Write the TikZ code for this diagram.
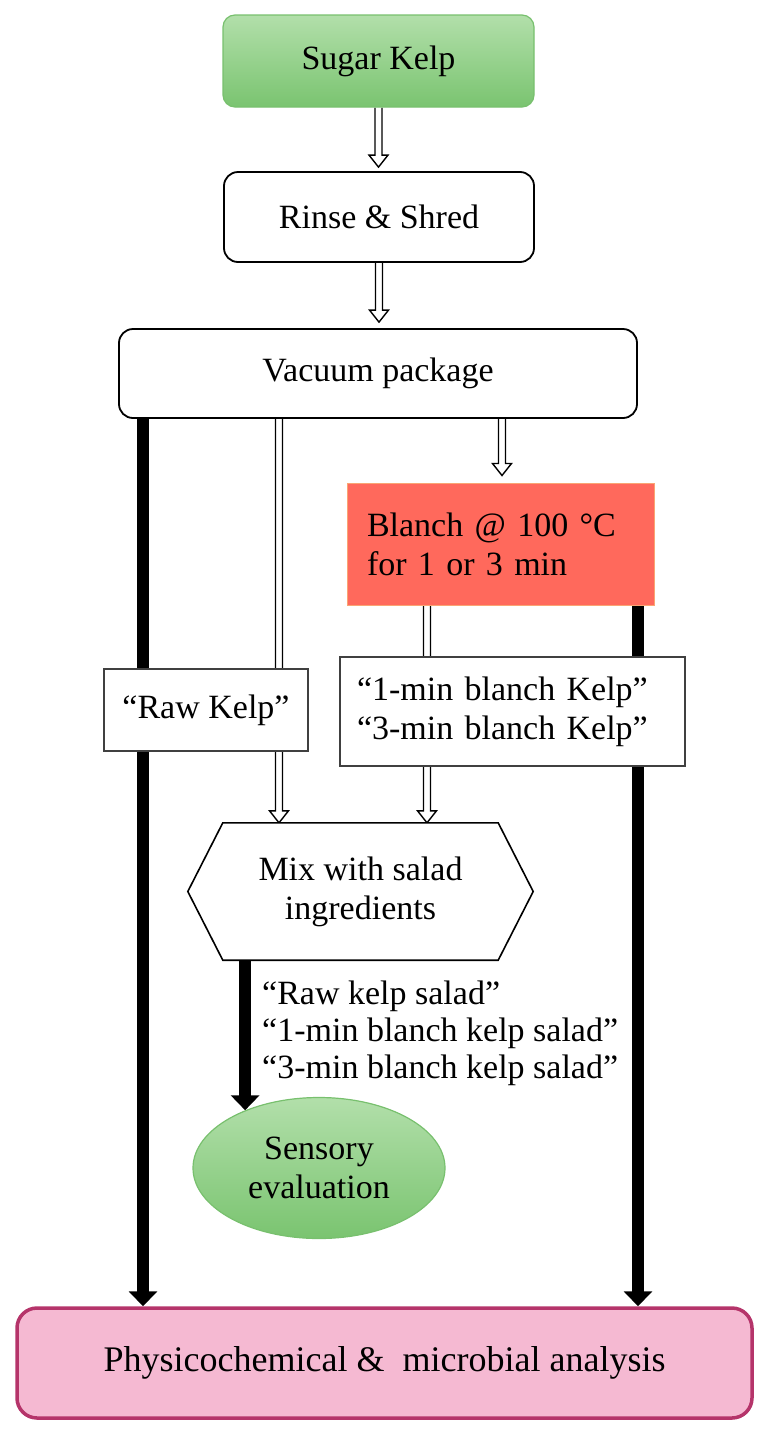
\documentclass[tikz,border=0pt]{standalone}
\usepackage{fontspec}
\setmainfont{Liberation Serif}
\usetikzlibrary{arrows.meta,calc,backgrounds,shapes.geometric}

\definecolor{gtop}{RGB}{178,223,170}
\definecolor{gbot}{RGB}{122,196,112}
\definecolor{gline}{RGB}{120,192,110}
\definecolor{redfill}{RGB}{255,105,92}
\definecolor{redline}{RGB}{250,165,115}
\definecolor{pinkfill}{RGB}{245,185,210}
\definecolor{pinkline}{RGB}{181,52,106}

\tikzset{
 every node/.style={font=\fontsize{34}{39}\selectfont, inner sep=0pt},
 rbox/.style={draw=black, line width=1.8pt, rounded corners=14pt, fill=white},
 sqbox/.style={draw=black!75, line width=1.6pt, fill=white},
 greenbox/.style={draw=gline, line width=1.2pt, top color=gtop, bottom color=gbot},
 thickarr/.style={line width=12pt, -{Triangle[width=28pt,length=15pt]}},
 hollow/.style={draw=black, fill=white, line width=1.4pt, line join=miter},
}
% #1 start, #2 end, #3 gap before the end
\newcommand\hollowarrow[3]{%
 \path[hollow] let \p1=(#1), \p2=(#2) in
 (\x1-3.5pt,\y1) -- (\x1-3.5pt,\y2+12pt+#3) -- (\x1-9.5pt,\y2+12pt+#3) -- (\x1,\y2+#3)
 -- (\x1+9.5pt,\y2+12pt+#3) -- (\x1+3.5pt,\y2+12pt+#3) -- (\x1+3.5pt,\y1);}

\begin{document}
\begin{tikzpicture}[x=1pt,y=-1pt]
\useasboundingbox (0,0) rectangle (772,1435);

\node[greenbox, rounded corners=12pt, minimum width=311pt, minimum height=92pt] (sk) at (378.5,61) {Sugar Kelp};
\node[rbox, minimum width=310pt, minimum height=90pt] (rs) at (379,217) {Rinse \& Shred};
\node[rbox, minimum width=518pt, minimum height=89pt] (vac) at (378,373.5) {Vacuum package};
\node[draw=redline, line width=1pt, fill=redfill, minimum width=307pt, minimum height=122pt,
      text width=267pt, inner xsep=20pt, align=left] (bl) at (500.5,544) {Blanch @ 100 °C\\for 1 or 3 min};
\node[sqbox, minimum width=204pt, minimum height=82pt] (raw) at (206,710) {“Raw Kelp”};
\node[sqbox, minimum width=345pt, minimum height=109pt, text width=311pt, inner xsep=17pt, align=left]
      (one) at (512.5,711.5) {“1-min blanch Kelp”\\“3-min blanch Kelp”};
\node[minimum width=345pt, minimum height=137pt, align=center] (hex) at (360.5,891.5) {Mix with salad\\ingredients};
\node[ellipse, greenbox, minimum width=252pt, minimum height=141pt, align=center] (sens) at (319,1168) {Sensory\\evaluation};
\node[draw=pinkline, line width=3.5pt, fill=pinkfill, rounded corners=20pt, minimum width=735pt, minimum height=110pt,
      font=\fontsize{36}{40}\selectfont] (phys) at (384.5,1363) {Physicochemical \&~ microbial analysis};
\node[anchor=west, align=left, font=\fontsize{34}{37}\selectfont] (lab) at (262,1033)
      {“Raw kelp salad”\\“1-min blanch kelp salad”\\“3-min blanch kelp salad”};

\coordinate (xL) at (143,0);
\coordinate (xA) at (279,0);
\coordinate (xB) at (427,0);
\coordinate (xC) at (502,0);
\coordinate (xR) at (638,0);

\begin{pgfonlayer}{background}
\draw[thickarr] (vac.south -| xL) -- (phys.north -| xL);
\draw[thickarr] (bl.south -| xR) -- (phys.north -| xR);
\draw[thickarr] (hex.south -| sens.142) -- (sens.142);
\hollowarrow{sk.south}{rs.north}{4pt}
\hollowarrow{rs.south}{vac.north}{6pt}
\hollowarrow{vac.south -| xC}{bl.north -| xC}{7pt}
\hollowarrow{vac.south -| xA}{hex.north -| xA}{0pt}
\hollowarrow{bl.south -| xB}{hex.north -| xB}{0pt}
\draw[draw=black, fill=white, line width=1.6pt, line join=miter]
  ([xshift=35pt]hex.north west) -- ([xshift=-35pt]hex.north east) -- (hex.east)
  -- ([xshift=-35pt]hex.south east) -- ([xshift=35pt]hex.south west) -- (hex.west) -- cycle;
\end{pgfonlayer}
\end{tikzpicture}
\end{document}
